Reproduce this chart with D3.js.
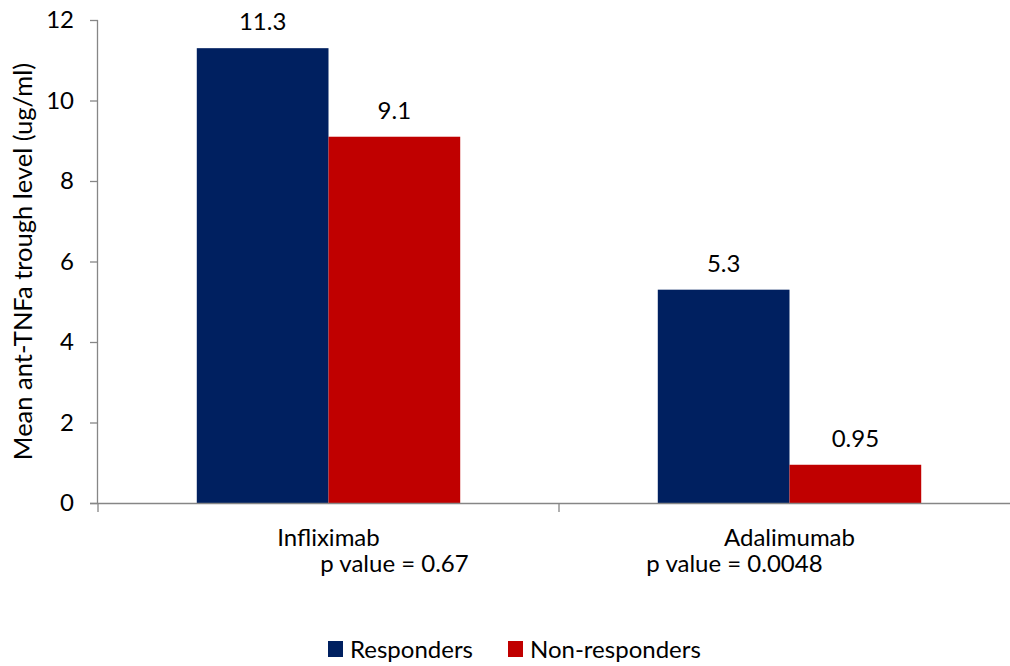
<!DOCTYPE html>
<html><head><meta charset="utf-8">
<script src="https://cdn.jsdelivr.net/npm/d3@7"></script>
<style>body{margin:0;background:#fff;} text{font-family:Lato,"Open Sans",sans-serif;fill:#000;}</style>
</head><body>
<svg id="c" width="1010" height="666"></svg>
<script>
const categories = ["Infliximab", "Adalimumab"];
const pValues = ["p value = 0.67", "p value = 0.0048"];
const seriesNames = ["Responders", "Non-responders"];
const responders = [11.3, 5.3];
const nonResponders = [9.1, 0.95];
const valueLabels = [["11.3", "9.1"], ["5.3", "0.95"]];
const yTicks = [0, 2, 4, 6, 8, 10, 12];
const colors = ["#002060", "#C00000"];

const svg = d3.select("#c");
const m = {left: 98, top: 20, right: -10, bottom: 163};
const W = 1010, H = 666;
const x = d3.scaleBand().domain(categories).range([m.left, W - m.right]).paddingInner(0).paddingOuter(0);
const xs = d3.scaleBand().domain(seriesNames).range([0, x.bandwidth()]).paddingInner(0).paddingOuter(0.75);
const y = d3.scaleLinear().domain([0, 12]).range([H - m.bottom, m.top]);
const fs = 24;
const axisColor = "#868686";

// y axis
const ya = svg.append("g").attr("transform", `translate(${m.left},0)`)
  .call(d3.axisLeft(y).tickValues(yTicks).tickSize(8).tickPadding(16).tickFormat(d3.format("d")));
ya.select(".domain").attr("stroke", axisColor).attr("stroke-width", 1.3).attr("d", `M-0.5,${y(12)}V${y(0)}`);
ya.selectAll(".tick line").attr("stroke", axisColor).attr("stroke-width", 1.3);
ya.selectAll(".tick text").style("font-size", fs + "px").attr("fill", "#000");

// bars
const data = categories.map((c, i) => ({c, vals: [responders[i], nonResponders[i]], labels: valueLabels[i]}));
const g = svg.append("g");
data.forEach(d => {
  d.vals.forEach((v, j) => {
    const bx = x(d.c) + xs(seriesNames[j]);
    g.append("rect").attr("x", bx).attr("y", y(v)).attr("width", xs.bandwidth()).attr("height", y(0) - y(v)).attr("fill", colors[j]);
    g.append("text").attr("x", bx + xs.bandwidth() / 2).attr("y", y(v) - 18).attr("text-anchor", "middle")
      .style("font-size", fs + "px").text(d.labels[j]);
  });
});

// x axis
const xa = svg.append("g").attr("transform", `translate(0,${y(0)})`);
xa.append("line").attr("x1", m.left - 8).attr("x2", W + 20).attr("y1", 0.5).attr("y2", 0.5).attr("stroke", axisColor).attr("stroke-width", 1.3);
[...categories.map(c => x(c)), x(categories[1]) + x.bandwidth()].forEach(t => {
  xa.append("line").attr("x1", t).attr("x2", t).attr("y1", 0).attr("y2", 9).attr("stroke", axisColor).attr("stroke-width", 1.3);
});
const pOffsets = [66, -55];
categories.forEach((c, i) => {
  const cx = x(c) + x.bandwidth() / 2;
  xa.append("text").attr("x", cx).attr("y", 43).attr("text-anchor", "middle").style("font-size", fs + "px").text(c);
  xa.append("text").attr("x", cx + pOffsets[i]).attr("y", 69).attr("text-anchor", "middle").style("font-size", fs + "px").text(pValues[i]);
});

// y title
svg.append("text").attr("transform", `translate(32,${(y(12) + y(0)) / 2}) rotate(-90)`).attr("text-anchor", "middle")
  .style("font-size", "25.5px").text("Mean ant-TNFa trough level (ug/ml)");

// legend
const leg = svg.append("g").attr("transform", "translate(328,641)");
const legX = [0, 180];
seriesNames.forEach((s, j) => {
  leg.append("rect").attr("x", legX[j]).attr("y", 0).attr("width", 15).attr("height", 16).attr("fill", colors[j]);
  leg.append("text").attr("x", legX[j] + 22).attr("y", 17).style("font-size", fs + "px").text(s);
});
</script>
</body></html>
